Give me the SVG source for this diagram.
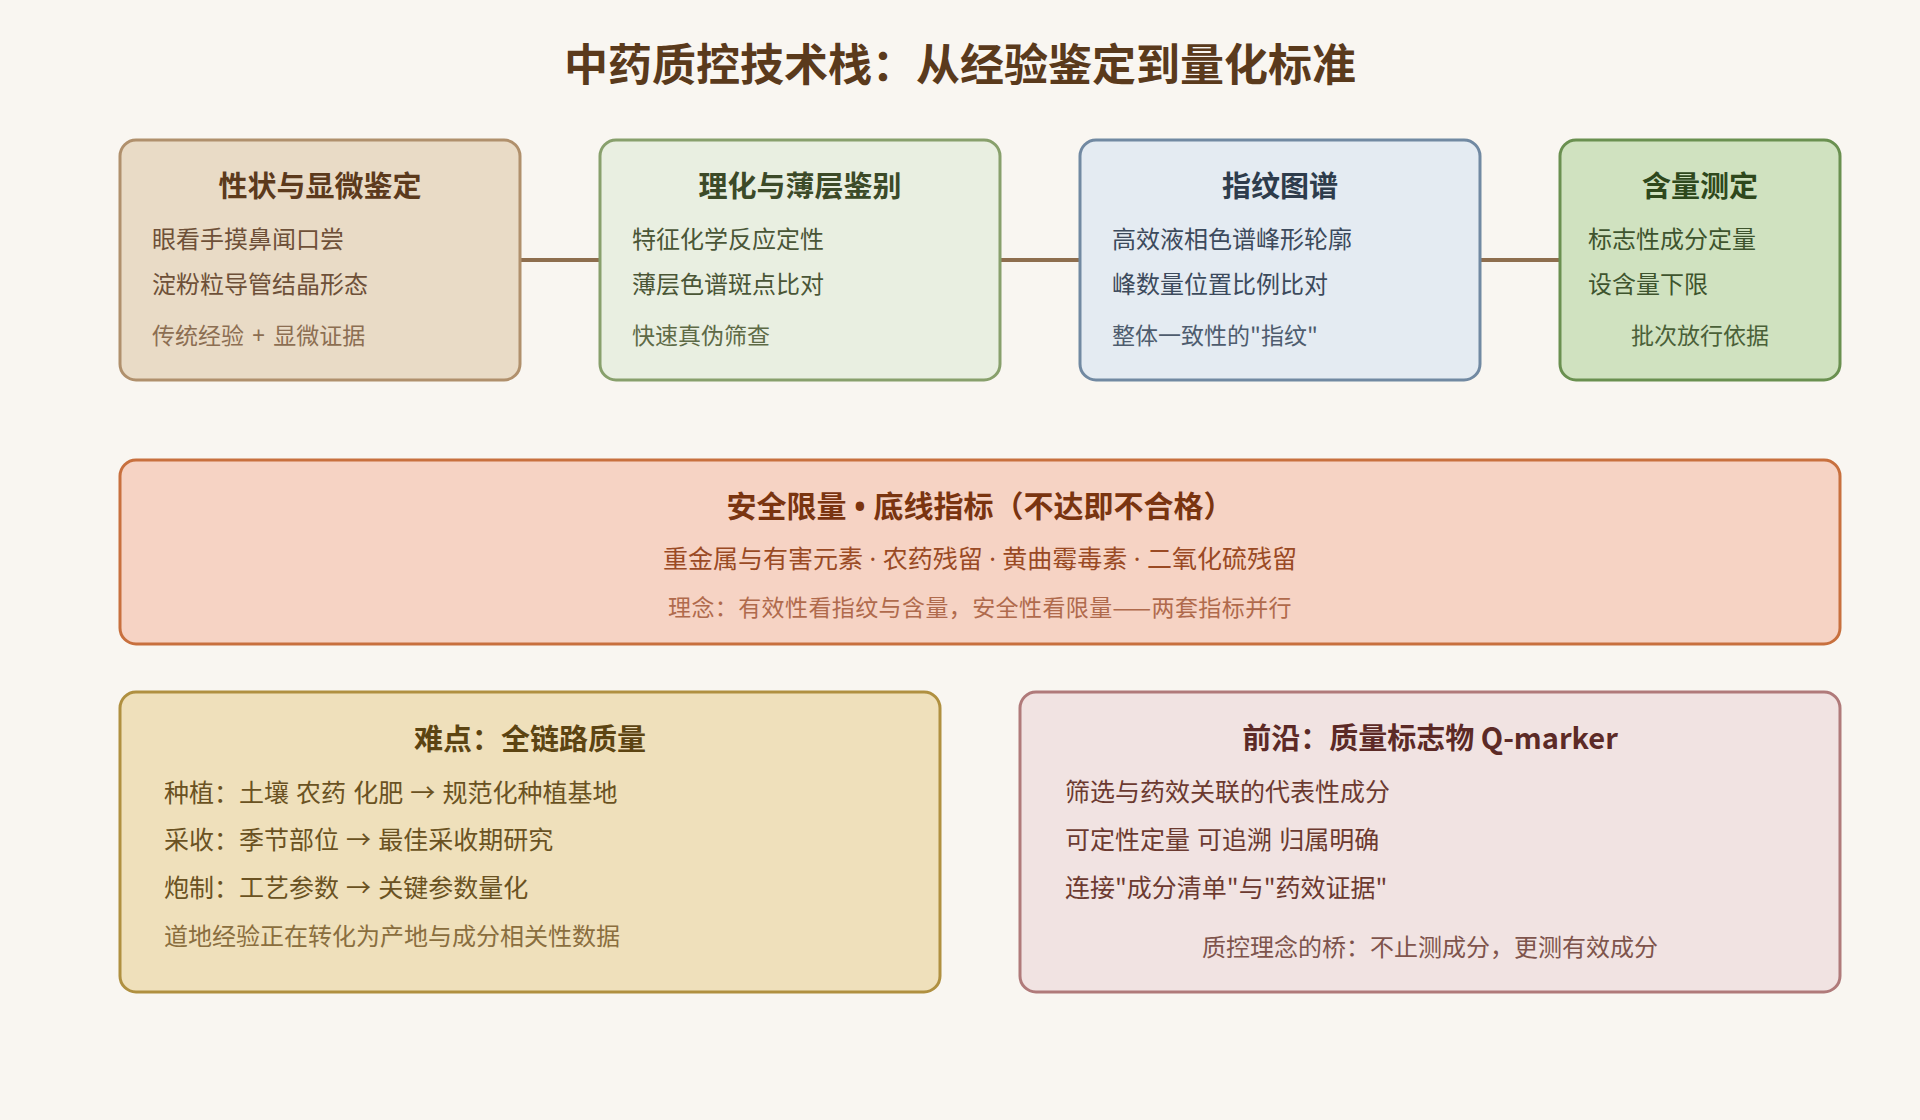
<svg xmlns="http://www.w3.org/2000/svg" width="1920" height="1120" viewBox="0 0 1920 1120">
<style>
text{font-family:"Noto Sans CJK SC","Noto Sans",sans-serif}
.lat{font-family:"Noto Sans","Liberation Sans",sans-serif}
.title{font-size:44px;font-weight:700;fill:#5A3A1C;text-anchor:middle}
.h{font-size:29px;font-weight:700;text-anchor:middle}
.it{font-size:24px}
.it25{font-size:25px}
.ft{font-size:23px}
.ws{word-spacing:1.5px}
.box{stroke-width:3}
.conn{stroke:#8E6E4E;stroke-width:4;fill:none}
</style>
<rect width="1920" height="1120" fill="#F9F6F1"/>
<text class="title" x="960" y="81">中药质控技术栈：从经验鉴定到量化标准</text>
<g id="connectors">
<line class="conn" x1="520" y1="260" x2="600" y2="260"/>
<line class="conn" x1="1000" y1="260" x2="1080" y2="260"/>
<line class="conn" x1="1480" y1="260" x2="1560" y2="260"/>
</g>
<g id="node-xingzhuang">
<rect class="box" x="120" y="140" width="400" height="240" rx="16" fill="#E9DBC6" stroke="#B0906C"/>
<text class="h" x="320" y="197" fill="#5C3A1C">性状与显微鉴定</text>
<text class="it" x="152" y="248" fill="#6E5038">眼看手摸鼻闻口尝</text>
<text class="it" x="152" y="293" fill="#6E5038">淀粉粒导管结晶形态</text>
<text class="ft" x="152" y="344" fill="#8C6E52">传统经验<tspan class="lat" style="word-spacing:2px"> + </tspan>显微证据</text>
</g>
<g id="node-lihua">
<rect class="box" x="600" y="140" width="400" height="240" rx="16" fill="#E9EFE1" stroke="#88A06C"/>
<text class="h" x="800" y="197" fill="#3C4A28">理化与薄层鉴别</text>
<text class="it" x="632" y="248" fill="#4A5636">特征化学反应定性</text>
<text class="it" x="632" y="293" fill="#4A5636">薄层色谱斑点比对</text>
<text class="ft" x="632" y="344" fill="#5E6A46">快速真伪筛查</text>
</g>
<g id="node-zhiwen">
<rect class="box" x="1080" y="140" width="400" height="240" rx="16" fill="#E4EBF2" stroke="#7189A2"/>
<text class="h" x="1280" y="197" fill="#2E3C4C">指纹图谱</text>
<text class="it" x="1112" y="248" fill="#3C4A5C">高效液相色谱峰形轮廓</text>
<text class="it" x="1112" y="293" fill="#3C4A5C">峰数量位置比例比对</text>
<text class="ft" x="1112" y="344" fill="#4E5C6E">整体一致性的"指纹"</text>
</g>
<g id="node-hanliang">
<rect class="box" x="1560" y="140" width="280" height="240" rx="16" fill="#D0E2C0" stroke="#6A9050"/>
<text class="h" x="1700" y="197" fill="#2E481C">含量测定</text>
<text class="it" x="1588" y="248" fill="#3E542E">标志性成分定量</text>
<text class="it" x="1588" y="293" fill="#3E542E">设含量下限</text>
<text class="ft" x="1700" y="344" fill="#4A6038" text-anchor="middle">批次放行依据</text>
</g>
<g id="node-anquan">
<rect class="box" x="120" y="460" width="1720" height="184" rx="16" fill="#F6D3C4" stroke="#C8703E"/>
<text class="h" x="980" y="517" fill="#7A3410" style="font-size:30px">安全限量<tspan class="lat"> • </tspan>底线指标（不达即不合格）</text>
<text class="it25" x="980" y="568" fill="#9A4A24" text-anchor="middle">重金属与有害元素<tspan class="lat"> · </tspan>农药残留<tspan class="lat"> · </tspan>黄曲霉毒素<tspan class="lat"> · </tspan>二氧化硫残留</text>
<text class="ft" x="980" y="616" fill="#B06A4C" text-anchor="middle" style="letter-spacing:0.4px">理念：有效性看指纹与含量，安全性看限量——两套指标并行</text>
</g>
<g id="node-nandian">
<rect class="box" x="120" y="692" width="820" height="300" rx="16" fill="#EFE0BB" stroke="#B09040"/>
<text class="h" x="530" y="750" fill="#5C4412">难点：全链路质量</text>
<text class="it25 ws" x="164" y="802" fill="#6A5222">种植：土壤 农药 化肥 → 规范化种植基地</text>
<text class="it25 ws" x="164" y="849" fill="#6A5222">采收：季节部位 → 最佳采收期研究</text>
<text class="it25 ws" x="164" y="897" fill="#6A5222">炮制：工艺参数 → 关键参数量化</text>
<text class="it" x="164" y="945" fill="#8A6E3E">道地经验正在转化为产地与成分相关性数据</text>
</g>
<g id="node-qianyan">
<rect class="box" x="1020" y="692" width="820" height="300" rx="16" fill="#F1E3E2" stroke="#B07A7A"/>
<text class="h" x="1430" y="749" fill="#5C2A26">前沿：质量标志物 Q-marker</text>
<text class="it25" x="1065" y="801" fill="#6C3A30">筛选与药效关联的代表性成分</text>
<text class="it25 ws" x="1065" y="849" fill="#6C3A30">可定性定量 可追溯 归属明确</text>
<text class="it25" x="1065" y="897" fill="#6C3A30">连接"成分清单"与"药效证据"</text>
<text class="it" x="1430" y="956" fill="#7E544C" text-anchor="middle">质控理念的桥：不止测成分，更测有效成分</text>
</g>
</svg>
